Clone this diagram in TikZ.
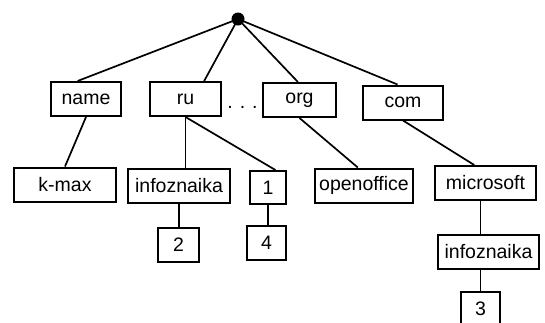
\documentclass[tikz,border=0pt]{standalone}
\usepackage{fontspec}
\setmainfont{Liberation Sans}
\begin{document}
\begin{tikzpicture}[x=1pt,y=-1pt]
\tikzstyle{box} = [draw,line width=2pt,minimum height=34pt,inner sep=0pt,font=\fontsize{19.5}{22}\selectfont]
\tikzstyle{edge} = [line width=1.7pt]
\useasboundingbox (0,0) rectangle (545,322);

\node[circle,fill,inner sep=0pt,minimum size=13pt] (root) at (238,19) {};

% top level domains
\node[box,minimum width=70pt] (name) at (86,99) {name};
\node[box,minimum width=71pt] (ru) at (185.5,99) {ru};
\node[box,minimum width=73pt] (org) at (299.5,100) {org};
\node[box,minimum width=80pt] (com) at (403,102.5) {com};
\node[anchor=base,inner sep=0pt,font=\fontsize{19.5}{22}\selectfont] (dots) at (242.5,108) {.\hspace{7pt}.\hspace{7pt}.};

% second level
\node[box,minimum width=102pt] (kmax) at (65,184.5) {k-max};
\node[box,minimum width=102pt] (info) at (179,186) {infoznaika};
\node[box,minimum width=36pt,minimum height=33pt] (one) at (268,187.5) {1};
\node[box,minimum width=98pt] (oo) at (364,185.5) {openoffice};
\node[box,minimum width=101pt] (ms) at (485.5,183) {microsoft};

% third level
\node[box,minimum width=41pt] (two) at (178.5,245) {2};
\node[box,minimum width=39pt] (four) at (266.5,243) {4};
\node[box,minimum width=101pt] (info2) at (488.5,252) {infoznaika};
\node[box,minimum width=39pt] (three) at (480.5,309) {3};

\draw[edge] (root.center) -- (name.115);
\draw[edge] (root.center) -- (ru.44);
\draw[edge] (root.center) -- (org.95);
\draw[edge] (root.center) -- (com.107);

\draw[edge] (name.south) -- (kmax.north);
\draw[edge] (ru.south) -- (ru.south |- info.north);
\draw[edge] (ru.south) -- (one.67);
\draw[edge] (org.south) -- (oo.109);
\draw[edge] (com.south) -- (ms.122);

\draw[edge] (info.south) -- (info.south |- two.north);
\draw[edge] (one.south) -- (one.south |- four.north);
\draw[edge] (three.north |- ms.south) -- (three.north |- info2.north);
\draw[edge] (three.north |- info2.south) -- (three.north);
\end{tikzpicture}
\end{document}
